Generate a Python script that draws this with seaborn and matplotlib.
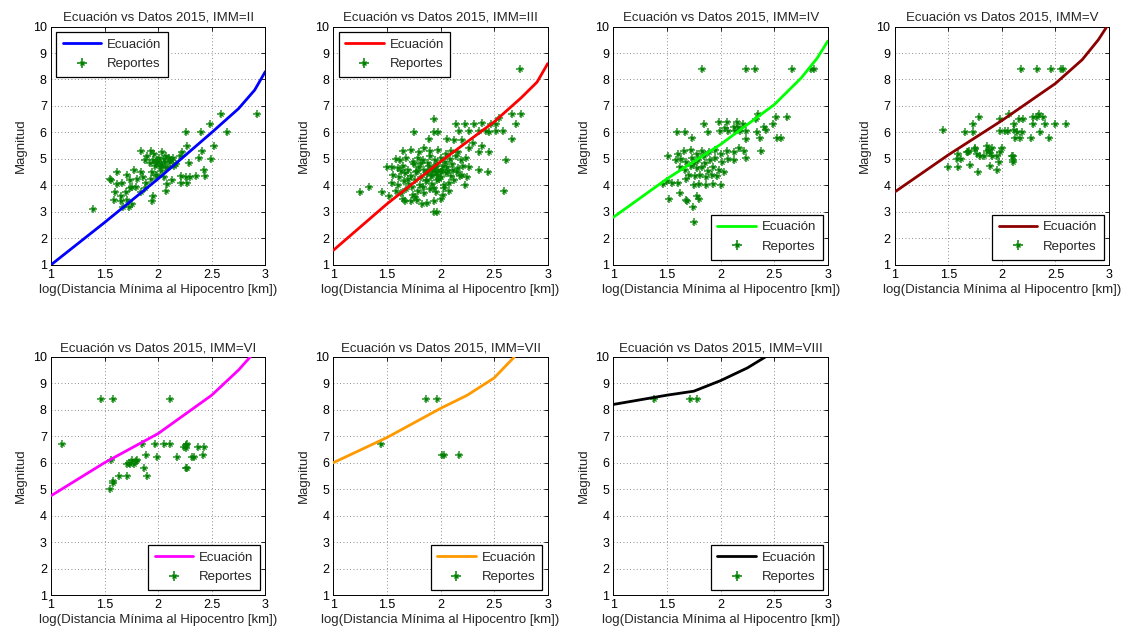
import matplotlib
matplotlib.use("Agg")
import matplotlib.pyplot as plt
from matplotlib.lines import Line2D
from matplotlib.legend_handler import HandlerTuple
import seaborn as sns
import pandas as pd

# ---------------- data ----------------
titles = ["Ecuación vs Datos 2015, IMM=II", "Ecuación vs Datos 2015, IMM=III",
          "Ecuación vs Datos 2015, IMM=IV", "Ecuación vs Datos 2015, IMM=V",
          "Ecuación vs Datos 2015, IMM=VI", "Ecuación vs Datos 2015, IMM=VII",
          "Ecuación vs Datos 2015, IMM=VIII"]
line_colors = ["#0000ff", "#ff0000", "#00ff00", "#8b0000", "#ff00ff", "#ff9900", "#000000"]

# Ecuación curves (log distance, magnitude)
eq_x_II = [1.0, 1.5, 2.0, 2.5, 2.75, 2.9, 3.0]
eq_y_II = [1.0, 2.6, 4.25, 6.0, 6.9, 7.6, 8.3]
eq_x_III = [1.0, 1.5, 2.0, 2.5, 2.75, 2.9, 3.0]
eq_y_III = [1.55, 3.3, 4.9, 6.4, 7.3, 7.9, 8.6]
eq_x_IV = [1.0, 1.5, 2.0, 2.5, 2.75, 2.9, 3.0]
eq_y_IV = [2.8, 4.25, 5.55, 7.05, 8.05, 8.8, 9.45]
eq_x_V = [1.0, 1.5, 2.0, 2.5, 2.75, 2.9, 2.98]
eq_y_V = [3.75, 5.15, 6.45, 7.85, 8.75, 9.5, 10.0]
eq_x_VI = [1.0, 1.5, 2.0, 2.5, 2.75, 2.86]
eq_y_VI = [4.75, 6.0, 7.1, 8.55, 9.5, 10.0]
eq_x_VII = [1.0, 1.5, 2.0, 2.25, 2.5, 2.69]
eq_y_VII = [6.0, 6.95, 8.05, 8.55, 9.2, 10.0]
eq_x_VIII = [1.0, 1.5, 1.75, 2.0, 2.25, 2.42]
eq_y_VIII = [8.2, 8.55, 8.7, 9.1, 9.58, 10.0]

# Reportes (log distance, magnitude)
rep_x_II = [1.39, 2.92, 2.59, 2.64, 2.40, 2.26, 2.48, 2.52, 2.49, 2.27, 2.41, 2.43, 2.44, 2.30, 2.26, 2.35,
            2.21, 2.27, 2.29, 2.38, 1.84, 1.93, 2.04,
            1.90, 1.95, 1.98, 2.03, 2.01, 2.06, 2.09, 2.12, 2.17, 2.20, 2.22, 2.15, 1.96, 2.07, 1.88,
            1.77, 1.84, 1.62, 1.71, 1.56,
            1.62, 1.66, 1.74, 1.80, 1.86, 1.89, 1.93, 1.99, 2.05, 2.08, 2.13, 2.21,
            1.60, 1.65, 1.70, 1.74, 1.79, 1.84, 1.88,
            1.59, 1.65, 1.71, 1.76, 1.95, 1.67, 1.73, 1.76, 1.94, 1.98, 2.03, 2.07,
            1.94, 2.07, 1.55,
            1.97, 2.00, 2.02, 2.05, 2.10, 1.92, 1.99, 2.04, 2.11, 2.14]
rep_y_II = [3.1, 6.7, 6.7, 6.0, 6.0, 6.0, 6.3, 5.5, 5.0, 5.5, 5.3, 4.6, 4.35, 4.3, 4.3, 4.35,
            4.1, 4.1, 4.85, 5.05, 5.3, 5.3, 5.25,
            5.1, 4.95, 4.85, 4.8, 5.05, 4.9, 4.7, 4.95, 4.8, 5.1, 5.25, 4.75, 5.2, 5.1, 4.95,
            4.6, 4.5, 4.5, 4.4, 4.2,
            4.05, 4.1, 4.2, 4.25, 4.3, 4.1, 4.25, 4.35, 4.3, 4.05, 4.2, 4.35,
            3.75, 3.6, 3.75, 3.9, 3.95, 3.75, 3.9,
            3.45, 3.4, 3.45, 3.3, 3.6, 3.2, 3.2, 3.95, 4.5, 4.4, 4.55, 4.65,
            3.4, 3.8, 4.23,
            4.75, 4.9, 4.7, 5.0, 5.05, 4.85, 4.95, 4.75, 4.9, 5.05]

rep_x_III = [2.74, 2.67, 2.75, 2.70, 2.55, 2.52, 2.14, 2.23, 2.31, 2.39, 2.47, 2.42,
             2.17, 2.27, 2.36, 2.45, 2.52, 2.58, 2.67, 2.61, 2.59, 1.94, 1.75, 1.94, 1.98,
             1.89, 2.06, 2.13, 2.20, 2.30, 2.39, 2.45, 2.36, 2.27, 1.50, 1.33, 1.25, 1.45, 1.52,
             1.67, 1.83, 1.94, 1.94, 1.97, 2.23, 2.20, 2.36, 2.44,
             1.65, 1.72, 1.80, 1.85, 1.90, 1.98, 2.05, 2.10, 2.16,
             1.58, 1.62, 1.68, 1.74, 1.79, 1.84, 1.90, 1.95, 2.00, 2.04, 2.09, 2.14, 2.19, 2.24,
             1.55, 1.60, 1.65, 1.70, 1.75, 1.80, 1.85, 1.89, 1.93, 1.97, 2.01, 2.06, 2.11, 2.16, 2.21, 2.27,
             1.56, 1.61, 1.67, 1.72, 1.77, 1.82, 1.87, 1.91, 1.96, 2.00, 2.05, 2.10, 2.15, 2.25,
             1.55, 1.60, 1.66, 1.71, 1.76, 1.81, 1.86, 1.92, 1.97, 2.03, 2.08, 2.13,
             1.58, 1.63, 1.68, 1.74, 1.79, 1.85, 1.90, 1.96, 2.02, 2.08,
             1.65, 1.72, 1.78, 1.87, 2.00,
             1.93, 1.95, 1.98, 2.00, 1.92, 1.97, 2.02, 1.88,
             1.82, 1.87, 1.99, 2.07, 1.78, 1.84, 1.94, 2.12, 1.70, 1.76, 1.88, 2.03, 2.18, 1.63, 1.73]
rep_y_III = [8.4, 6.7, 6.7, 6.3, 6.55, 6.3, 6.3, 6.3, 6.3, 6.35, 6.3, 6.05,
             6.05, 6.05, 6.05, 6.0, 6.05, 6.05, 5.75, 4.95, 3.8, 6.5, 6.0, 6.0, 6.0,
             5.75, 5.75, 5.7, 5.7, 5.6, 5.5, 5.25, 5.25, 5.4, 4.7, 3.95, 3.75, 3.75, 3.6,
             3.4, 3.3, 3.4, 3.0, 3.0, 4.0, 4.4, 4.6, 4.5,
             5.3, 5.35, 5.25, 5.4, 5.3, 5.35, 5.2, 5.3, 5.25,
             5.0, 4.95, 5.05, 4.9, 5.05, 4.95, 5.1, 4.95, 5.05, 4.9, 5.0, 5.1, 4.95, 5.05,
             4.7, 4.65, 4.75, 4.6, 4.8, 4.7, 4.6, 4.75, 4.65, 4.8, 4.6, 4.7, 4.8, 4.65, 4.75, 4.7,
             4.4, 4.3, 4.45, 4.35, 4.5, 4.3, 4.45, 4.35, 4.5, 4.3, 4.45, 4.35, 4.5, 4.3,
             4.1, 4.0, 4.15, 4.05, 4.2, 4.0, 4.15, 4.05, 4.2, 4.0, 4.1, 4.2,
             3.8, 3.7, 3.85, 3.65, 3.8, 3.7, 3.85, 3.75, 3.65, 3.8,
             3.5, 3.4, 3.45, 3.35, 3.5,
             4.55, 4.7, 4.6, 4.5, 4.4, 4.4, 4.75, 4.55,
             4.85, 4.2, 4.25, 4.55, 4.55, 3.95, 3.9, 4.6, 4.25, 3.55, 4.85, 3.9, 4.35, 4.55, 3.95]

rep_x_IV = [1.83, 2.24, 2.32, 2.67, 2.84, 2.87, 2.52, 2.62, 2.35, 2.33, 2.40, 2.42, 2.49,
            2.34, 2.37, 2.53, 2.56, 2.38, 2.24, 2.24,
            1.84, 1.98, 2.06, 2.15, 2.21, 1.99, 2.07, 2.13, 2.18, 2.24, 2.04, 2.12, 2.16,
            1.59, 1.67, 1.88, 1.73, 1.51,
            1.60, 1.66, 1.72, 1.78, 1.83, 1.89, 1.95, 2.00, 2.06, 2.12, 2.17, 2.22,
            1.58, 1.63, 1.68, 1.73, 1.79, 1.84, 1.90, 1.95, 2.01, 2.07, 2.12,
            1.62, 1.67, 1.72, 1.78, 1.83, 1.88, 1.93, 1.98, 2.03,
            1.55, 1.60, 1.68, 1.75, 1.80, 1.86, 1.93, 2.00, 1.46, 1.50,
            1.52, 1.62, 1.68, 1.69, 1.78, 1.80, 1.74, 1.75,
            1.70, 1.76, 1.81, 1.86, 1.92, 1.97, 1.75, 1.85]
rep_y_IV = [8.4, 8.4, 8.4, 8.4, 8.4, 8.4, 6.6, 6.6, 6.7, 6.5, 6.2, 6.1, 6.3,
            6.0, 5.8, 5.8, 5.8, 5.3, 5.75, 5.05,
            6.3, 6.4, 6.4, 6.4, 6.3, 6.05, 6.05, 6.05, 6.05, 6.05, 6.15, 6.2, 6.2,
            6.0, 6.0, 6.0, 5.8, 5.1,
            5.2, 5.3, 5.35, 5.2, 5.3, 5.25, 5.35, 5.2, 5.3, 5.25, 5.4, 5.3,
            4.95, 5.0, 4.9, 5.05, 4.95, 5.1, 4.95, 5.05, 4.9, 5.0, 4.95,
            4.7, 4.6, 4.75, 4.65, 4.7, 4.55, 4.7, 4.6, 4.5,
            4.1, 4.1, 4.25, 4.0, 4.05, 4.0, 4.05, 4.0, 4.05, 4.15,
            3.5, 3.7, 3.45, 3.4, 3.6, 3.5, 3.2, 2.6,
            4.4, 4.35, 4.4, 4.3, 4.4, 4.35, 4.85, 4.85]

rep_x_V = [2.18, 2.33, 2.46, 2.55, 2.57, 1.45, 1.66, 1.73, 1.79, 1.73,
           1.98, 2.07, 2.11, 1.98, 2.03, 2.06, 2.14, 2.19, 2.16, 2.20,
           2.29, 2.33, 2.38, 2.35, 2.29, 2.40, 2.50, 2.60, 2.36, 2.44, 2.27, 2.12, 2.17, 2.11,
           2.09, 2.10, 1.75, 1.68, 1.59, 1.62, 1.58, 1.50, 1.59, 1.70, 1.67, 1.69, 1.75, 1.77,
           1.78, 1.86, 1.88, 1.91, 1.89, 1.95, 1.95, 1.98, 1.97, 1.91, 1.83, 1.80, 2.10, 2.10,
           2.00, 1.86, 1.89]
rep_y_V = [8.4, 8.4, 8.4, 8.4, 8.4, 6.1, 6.0, 6.3, 6.6, 6.0,
           6.5, 6.7, 6.3, 6.05, 6.05, 6.05, 6.0, 6.0, 6.5, 6.5,
           6.6, 6.6, 6.6, 6.7, 6.3, 6.3, 6.3, 6.3, 6.0, 5.8, 5.8, 5.8, 5.8, 6.1,
           5.1, 4.95, 5.4, 5.25, 5.2, 5.0, 5.0, 4.7, 4.7, 4.78, 5.25, 5.3, 5.37, 5.2,
           4.5, 5.5, 5.35, 5.1, 4.75, 5.1, 4.6, 5.25, 4.9, 5.4, 5.1, 5.1, 5.1, 4.9,
           5.43, 5.3, 5.24]

rep_x_VI = [1.10, 1.47, 1.58, 2.11, 1.85, 1.97, 2.05, 2.11, 2.26, 2.27, 2.26, 2.24, 2.37, 2.43,
            1.56, 1.89, 1.99, 2.18, 2.32, 2.33, 2.42, 1.73, 1.76, 1.79, 1.74, 1.77, 1.71, 1.80,
            1.87, 2.26, 2.27, 1.90, 1.71, 1.63, 1.58, 1.58, 1.55]
rep_y_VI = [6.7, 8.4, 8.4, 8.4, 6.7, 6.7, 6.7, 6.7, 6.65, 6.7, 6.55, 6.6, 6.6, 6.6,
            6.1, 6.3, 6.2, 6.2, 6.2, 6.2, 6.3, 6.0, 6.1, 6.05, 5.95, 5.95, 5.95, 6.1,
            5.8, 5.8, 5.8, 5.5, 5.5, 5.5, 5.3, 5.25, 5.0]

rep_x_VII = [1.44, 1.86, 1.97, 2.01, 2.03, 2.17]
rep_y_VII = [6.7, 8.4, 8.4, 6.3, 6.3, 6.3]

rep_x_VIII = [1.38, 1.71, 1.78]
rep_y_VIII = [8.4, 8.4, 8.4]

eq_x = [eq_x_II, eq_x_III, eq_x_IV, eq_x_V, eq_x_VI, eq_x_VII, eq_x_VIII]
eq_y = [eq_y_II, eq_y_III, eq_y_IV, eq_y_V, eq_y_VI, eq_y_VII, eq_y_VIII]
rep_x = [rep_x_II, rep_x_III, rep_x_IV, rep_x_V, rep_x_VI, rep_x_VII, rep_x_VIII]
rep_y = [rep_y_II, rep_y_III, rep_y_IV, rep_y_V, rep_y_VI, rep_y_VII, rep_y_VIII]
legend_locs = ["upper left", "upper left", "lower right", "lower right",
               "lower right", "lower right", "lower right"]

x_ticks = [1, 1.5, 2, 2.5, 3]
x_tick_labels = ["1", "1.5", "2", "2.5", "3"]
y_ticks = [1, 2, 3, 4, 5, 6, 7, 8, 9, 10]

# ---------------- style ----------------
sns.set_theme(style="white")
plt.rcParams["font.family"] = ["Liberation Sans", "DejaVu Sans"]
plt.rcParams["axes.edgecolor"] = "black"
plt.rcParams["axes.linewidth"] = 0.8

fig = plt.figure(figsize=(11.34, 6.32), dpi=100)
lefts = [0.045, 0.294, 0.541, 0.789]
w, h = 0.189, 0.377
bottoms = [0.581, 0.0585]

rep_color = "#008000"

for i in range(7):
    r, c = divmod(i, 4)
    ax = fig.add_axes([lefts[c], bottoms[r], w, h])
    df_eq = pd.DataFrame({"x": eq_x[i], "y": eq_y[i]})
    df_rep = pd.DataFrame({"x": rep_x[i], "y": rep_y[i]})
    sns.lineplot(data=df_eq, x="x", y="y", ax=ax, color=line_colors[i], linewidth=2.0,
                 sort=False, estimator=None, zorder=3)
    sns.scatterplot(data=df_rep, x="x", y="y", ax=ax, marker="+", s=40, color=rep_color,
                    linewidth=1.1, alpha=0.85, zorder=2)
    sns.scatterplot(data=df_rep, x="x", y="y", ax=ax, marker="x", s=9, color=rep_color,
                    linewidth=1.0, alpha=0.85, zorder=2)
    ax.set_xlim(1, 3)
    ax.set_ylim(1, 10)
    ax.set_xticks(x_ticks)
    ax.set_xticklabels(x_tick_labels)
    ax.set_yticks(y_ticks)
    ax.grid(True, linestyle=(0, (1, 3)), color="#666666", linewidth=0.6)
    ax.tick_params(direction="in", length=3, width=0.6, top=True, right=True,
                   labelsize=9, colors="black", pad=3)
    for sp in ax.spines.values():
        sp.set_visible(True)
        sp.set_color("black")
        sp.set_linewidth(0.7)
    ax.set_title(titles[i], fontsize=9.5, pad=4)
    ax.set_xlabel("log(Distancia Mínima al Hipocentro [km])", fontsize=9.5, labelpad=2)
    ax.set_ylabel("Magnitud", fontsize=9.5, labelpad=4)
    h_plus = Line2D([], [], color=rep_color, marker="+", linestyle="none",
                    markersize=6.5, markeredgewidth=1.1)
    h_x = Line2D([], [], color=rep_color, marker="x", linestyle="none",
                 markersize=3, markeredgewidth=1.0)
    handles = [Line2D([], [], color=line_colors[i], lw=2.0), (h_plus, h_x)]
    leg = ax.legend(handles, ["Ecuación", "Reportes"], loc=legend_locs[i], fontsize=9.5,
                    frameon=True, fancybox=False, framealpha=1, edgecolor="black",
                    handlelength=2.9, borderpad=0.5, labelspacing=0.55,
                    borderaxespad=0.4, handletextpad=0.45,
                    handler_map={tuple: HandlerTuple(ndivide=1, pad=0)})
    leg.get_frame().set_linewidth(0.9)

fig.savefig("out.png", dpi=100)
